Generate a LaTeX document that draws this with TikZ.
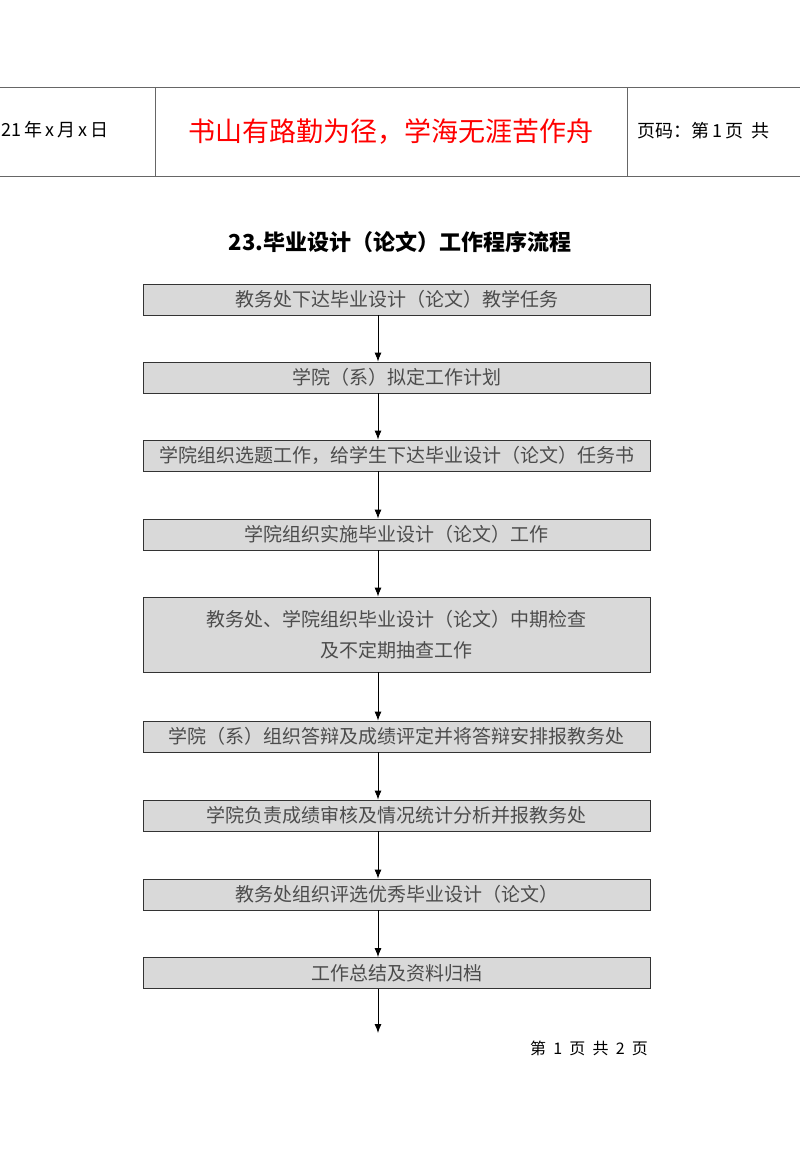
\documentclass[tikz,border=0pt]{standalone}
\usepackage{fontspec}
\usetikzlibrary{arrows.meta}
\setmainfont{Liberation Serif}
\newfontfamily\cjk{Noto Sans CJK SC}
\begin{document}
\begin{tikzpicture}[x=1pt,y=-1pt,
  box/.style={draw=black!80,fill=black!15,line width=0.8pt,minimum width=507pt,inner sep=0pt,align=center,font=\cjk\fontsize{19}{31}\selectfont,text=black!70},
  arr/.style={-{Latex[length=9pt,width=7pt]},line width=0.9pt}]
\useasboundingbox (0,0) rectangle (800,1159);
\draw[black!60,line width=0.8pt] (0,87) -- (800,87) (0,176) -- (800,176) (155,87) -- (155,176) (627,87) -- (627,176);
\node[anchor=west,font=\cjk\fontsize{18}{20}\selectfont] (h1) at (-2,130) {21\,年\,x\,月\,x\,日};
\node[font=\cjk\fontsize{27}{30}\selectfont,text=red] (h2) at (391,131) {书山有路勤为径，学海无涯苦作舟};
\node[anchor=west,font=\cjk\fontsize{18}{20}\selectfont] (h3) at (634,131) {页码：第\,1\,页\ \ 共};
\node[font=\cjk\bfseries\fontsize{22}{24}\selectfont] (t) at (400,242) {23.毕业设计（论文）工作程序流程};
\node[box,minimum height=31pt] (b1) at (396.5,299.5) {教务处下达毕业设计（论文）教学任务};
\node[box,minimum height=31pt] (b2) at (396.5,377.5) {学院（系）拟定工作计划};
\node[box,minimum height=31pt] (b3) at (396.5,455.5) {学院组织选题工作，给学生下达毕业设计（论文）任务书};
\node[box,minimum height=31pt] (b4) at (396.5,534.5) {学院组织实施毕业设计（论文）工作};
\node[box,minimum height=75pt] (b5) at (396.5,634.5) {教务处、学院组织毕业设计（论文）中期检查\\及不定期抽查工作};
\node[box,minimum height=31pt] (b6) at (396.5,736.5) {学院（系）组织答辩及成绩评定并将答辩安排报教务处};
\node[box,minimum height=31pt] (b7) at (396.5,815.5) {学院负责成绩审核及情况统计分析并报教务处};
\node[box,minimum height=31pt] (b8) at (396.5,894.5) {教务处组织评选优秀毕业设计（论文）};
\node[box,minimum height=31pt] (b9) at (396.5,973) {工作总结及资料归档};
\coordinate (e) at (378,1033);
\foreach \a/\b in {b1/b2,b2/b3,b3/b4,b4/b5,b5/b6,b6/b7,b7/b8,b8/b9}
  \draw[arr] (\a.south -| e) -- (\b.north -| e);
\draw[arr] (b9.south -| e) -- (e);
\node[font=\cjk\fontsize{16}{18}\selectfont] (f) at (589,1048) {第\ \ 1\ \ 页\ \ 共\ \ 2\ \ 页};
\end{tikzpicture}
\end{document}
